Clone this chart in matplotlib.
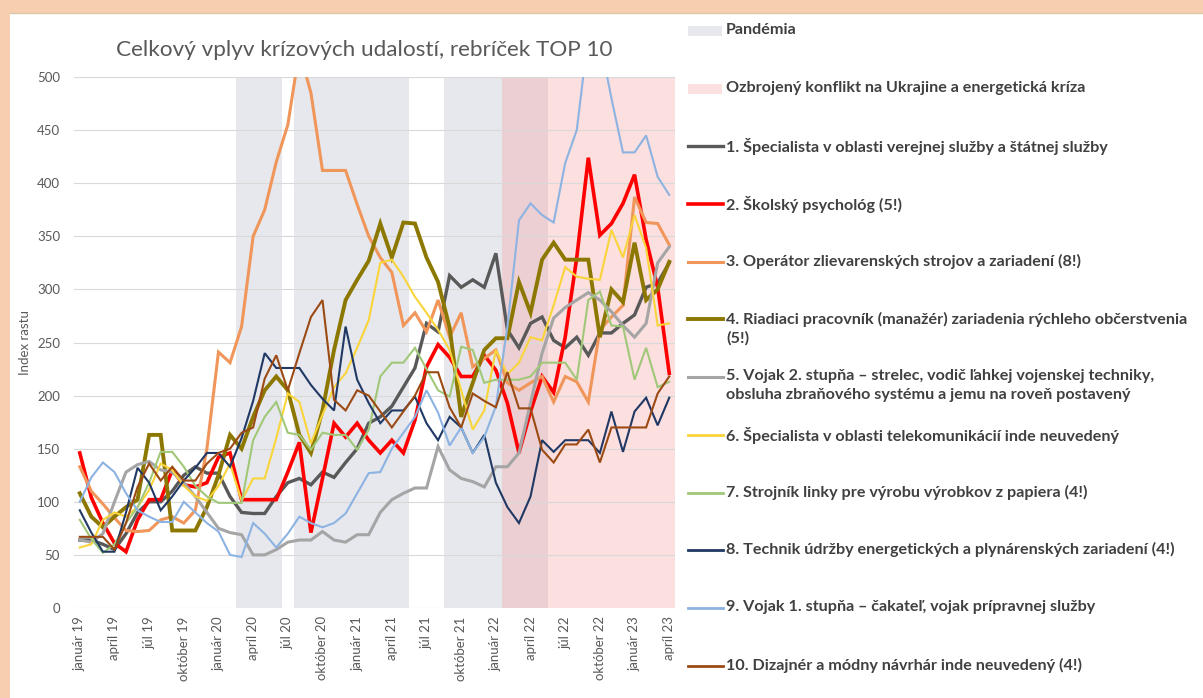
import numpy as np
import matplotlib.pyplot as plt
from matplotlib.lines import Line2D
from matplotlib.patches import Rectangle

# x axis: monthly categories jan 2019 .. apr 2023 (52 months)
months = ["január", "február", "marec", "apríl", "máj", "jún", "júl",
          "august", "september", "október", "november", "december"]
categories = [f"{months[m]} {y}" for y in range(19, 24) for m in range(12)][:52]
tick_labels = ["január 19", "apríl 19", "júl 19", "október 19",
               "január 20", "apríl 20", "júl 20", "október 20",
               "január 21", "apríl 21", "júl 21", "október 21",
               "január 22", "apríl 22", "júl 22", "október 22",
               "január 23", "apríl 23"]

# shaded periods, given as (first, last) category index
pandemia = [(14, 17), (19, 28), (32, 40)]
konflikt = [(37, 51)]

s1 = [64, 64, 60, 55, 70, 90, 100, 100, 110, 125, 133, 127, 127, 105, 90, 89, 89, 105,
      118, 122, 116, 128, 123, 137, 150, 174, 180, 190, 208, 226, 268, 260, 313, 302,
      309, 302, 334, 262, 245, 268, 274, 252, 245, 255, 238, 259, 259, 268, 276, 302,
      306, 325]
s2 = [146, 104, 80, 61, 53, 83, 102, 102, 130, 116, 114, 118, 142, 146, 102, 102, 102,
      102, 128, 156, 71, 122, 174, 161, 174, 158, 146, 158, 146, 177, 227, 248, 236, 218,
      218, 238, 224, 193, 146, 185, 218, 203, 255, 330, 424, 351, 362, 381, 408, 347,
      302, 221]
s3 = [133, 110, 98, 85, 73, 72, 73, 83, 86, 80, 92, 150, 241, 231, 265, 350, 375, 420,
      455, 525, 485, 412, 412, 412, 380, 350, 330, 316, 266, 278, 260, 290, 255, 278,
      227, 235, 243, 212, 205, 212, 218, 194, 218, 213, 194, 262, 274, 285, 387, 363,
      362, 342]
s4 = [108, 86, 76, 86, 95, 102, 163, 163, 73, 73, 73, 95, 125, 163, 150, 180, 205, 218,
      205, 163, 146, 186, 243, 290, 309, 327, 362, 330, 363, 362, 330, 307, 264, 180,
      212, 243, 254, 254, 307, 278, 328, 344, 328, 328, 328, 255, 300, 288, 344, 290,
      300, 326]
s5 = [64, 62, 70, 100, 128, 135, 138, 130, 128, 118, 105, 90, 75, 71, 69, 50, 50, 55,
      62, 64, 64, 72, 64, 62, 69, 69, 90, 102, 108, 113, 113, 152, 130, 122, 119, 114,
      133, 133, 146, 193, 240, 273, 283, 290, 297, 290, 279, 266, 255, 268, 325, 340]
s6 = [57, 60, 83, 90, 86, 95, 111, 136, 130, 115, 105, 101, 115, 136, 101, 122, 122, 160,
      202, 194, 155, 182, 208, 221, 245, 271, 325, 328, 312, 293, 278, 262, 243, 205,
      168, 186, 243, 220, 231, 255, 252, 285, 321, 312, 310, 309, 356, 330, 370, 339,
      266, 268]
s7 = [83, 65, 52, 60, 80, 95, 118, 147, 147, 133, 115, 105, 99, 99, 99, 158, 180, 194,
      165, 163, 149, 165, 163, 163, 149, 168, 218, 231, 231, 245, 225, 205, 199, 246,
      243, 212, 215, 215, 215, 218, 231, 231, 231, 215, 290, 298, 266, 265, 215, 245,
      208, 213]
s8 = [92, 71, 53, 53, 90, 132, 118, 92, 105, 120, 132, 146, 146, 133, 160, 195, 240, 226,
      226, 226, 210, 197, 186, 265, 215, 193, 174, 186, 186, 199, 174, 158, 180, 170,
      146, 163, 118, 95, 80, 105, 158, 147, 158, 158, 158, 146, 185, 147, 185, 198, 172,
      198]
s9 = [100, 123, 137, 128, 108, 92, 86, 81, 81, 100, 90, 80, 72, 50, 48, 80, 70, 57, 70,
      86, 80, 76, 80, 89, 108, 127, 128, 150, 165, 180, 205, 184, 153, 170, 146, 161,
      190, 265, 365, 381, 370, 363, 419, 450, 540, 535, 480, 429, 429, 445, 406, 389]
s10 = [67, 67, 67, 55, 80, 114, 136, 120, 133, 120, 120, 136, 146, 150, 165, 170, 216,
       238, 205, 240, 274, 290, 196, 186, 205, 200, 185, 170, 185, 200, 222, 222, 189,
       170, 202, 195, 189, 222, 188, 188, 149, 137, 154, 154, 168, 137, 170, 170, 170,
       170, 202, 218]

names = [
    "1. Špecialista v oblasti verejnej služby a štátnej služby",
    "2. Školský psychológ (5!)",
    "3. Operátor zlievarenských strojov a zariadení (8!)",
    "4. Riadiaci pracovník (manažér) zariadenia rýchleho občerstvenia\n(5!)",
    "5. Vojak 2. stupňa – strelec, vodič ľahkej vojenskej techniky,\n"
    "obsluha zbraňového systému a jemu na roveň postavený",
    "6. Špecialista v oblasti telekomunikácií inde neuvedený",
    "7. Strojník linky pre výrobu výrobkov z papiera (4!)",
    "8. Technik údržby energetických a plynárenských zariadení (4!)",
    "9. Vojak 1. stupňa – čakateľ, vojak prípravnej služby",
    "10. Dizajnér a módny návrhár inde neuvedený (4!)",
]
series = [s1, s2, s3, s4, s5, s6, s7, s8, s9, s10]
colors = ["#595959", "#FF0000", "#F0965A", "#8C7800", "#A5A5A5",
          "#F9D43A", "#A0C878", "#203864", "#8DB3E2", "#9C4A14"]
widths = [2.4, 2.6, 2.2, 2.8, 2.2, 1.5, 1.5, 1.5, 1.5, 1.5]

plt.rcParams['font.family'] = ['Lato', 'DejaVu Sans']

W, H = 1203, 698
fig = plt.figure(figsize=(W / 100, H / 100), dpi=100)
fig.patch.set_facecolor("#F7CFB0")
# white slide panel
fig.add_artist(Rectangle((10 / W, 0), 1, (H - 13) / H, transform=fig.transFigure,
                         facecolor="white", edgecolor="none", zorder=0))
fig.add_artist(Line2D([10 / W, 1], [(H - 13) / H] * 2, transform=fig.transFigure,
                      color="#D8C8A8", lw=1))

ax = fig.add_axes([74 / W, (H - 608) / H, 601 / W, 531 / H])
ax.set_facecolor("none")

x = np.arange(len(categories))
grey_c, pink_c = "#AFB6C6", "#F89898"
for a, b in pandemia:
    ax.axvspan(a - 0.5, b + 0.5, color=grey_c, alpha=0.3, lw=0, zorder=0)
for a, b in konflikt:
    ax.axvspan(a - 0.5, b + 0.5, color=pink_c, alpha=0.3, lw=0, zorder=0)

for s, c, w in zip(series, colors, widths):
    ax.plot(x, s, color=c, lw=w, zorder=3, solid_joinstyle="miter")

ax.set_xlim(-0.5, len(categories) - 0.5)
ax.set_ylim(0, 500)
ax.set_yticks(np.arange(0, 501, 50))
ax.set_xticks(x[::3])
ax.set_xticklabels(tick_labels, rotation=90)
ax.tick_params(axis="both", length=0, labelsize=9.5, colors="#595959")
ax.tick_params(axis="x", pad=6)
ax.tick_params(axis="y", pad=10)
ax.grid(axis="y", color="#D9D9D9", lw=0.8, zorder=1)
ax.set_axisbelow(True)
for sp in ax.spines.values():
    sp.set_visible(False)
ax.set_ylabel("Index rastu", fontsize=9.5, color="#595959", labelpad=4)

fig.text(364 / W, 1 - 50 / H, "Celkový vplyv krízových udalostí, rebríček TOP 10",
         fontsize=16.2, color="#595959", ha="center", va="center")

# legend on the right
leg_y0, leg_step = 31, 57.7
handles = [("patch", grey_c, 0.3, "Pandémia"),
           ("patch", pink_c, 0.3, "Ozbrojený konflikt na Ukrajine a energetická kríza")]
handles += [("line", c, w, n) for c, w, n in zip(colors, widths, names)]
for i, (kind, c, w, label) in enumerate(handles):
    yp = leg_y0 + i * leg_step
    yf = 1 - yp / H
    if kind == "patch":
        fig.add_artist(Rectangle((688 / W, 1 - (yp + 5) / H), 34 / W, 10 / H,
                                 transform=fig.transFigure, facecolor=c, alpha=w,
                                 edgecolor="none"))
    else:
        fig.add_artist(Line2D([688 / W, 723 / W], [yf, yf], transform=fig.transFigure,
                              color=c, lw=max(w, 2.0)))
    fig.text(726 / W, yf + 8 / H, label, fontsize=11.6, fontweight="bold",
             color="#404040", ha="left", va="top", linespacing=1.4)

fig.savefig("out.png", dpi=100, facecolor=fig.get_facecolor())
